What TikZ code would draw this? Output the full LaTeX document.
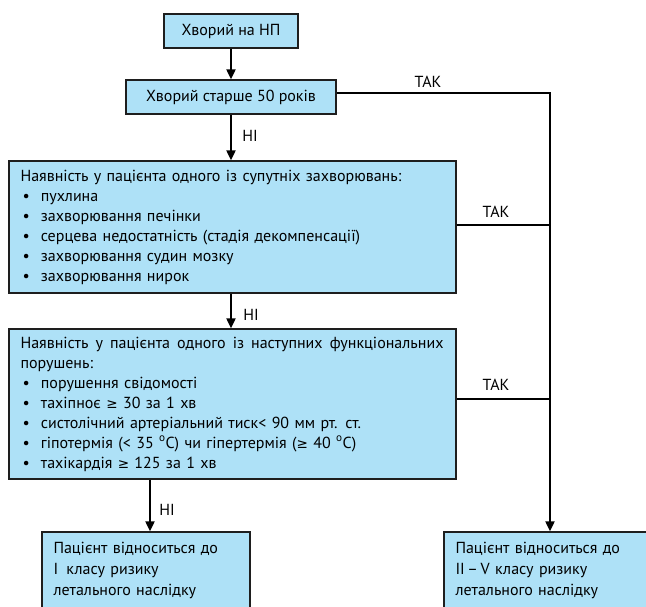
\documentclass[tikz,border=0pt]{standalone}
\usepackage{fontspec}
\setmainfont{PT Sans}
\newfontfamily\symf{DejaVu Sans}[Scale=0.85]
\usetikzlibrary{arrows.meta}
\definecolor{boxblue}{RGB}{174,225,247}
\definecolor{edgecol}{RGB}{30,30,30}
\newcommand{\gesign}{{\symf ≥}}
\newcommand{\bul}{\makebox[20.4pt][l]{\hspace{2pt}•}}
\begin{document}
\begin{tikzpicture}[x=1pt,y=-1pt,
  box/.style={draw=edgecol, line width=1.3pt, fill=boxblue, inner sep=0pt, font=\fontsize{16}{20}\selectfont},
  conn/.style={line width=2pt, draw=black},
  arr/.style={conn, -{Triangle[width=9pt,length=10pt]}},
  lbl/.style={font=\fontsize{16}{18}\selectfont, inner sep=0pt}]
\useasboundingbox (0,0) rectangle (646,606);
\clip (0,0) rectangle (646,606);
\node[box, minimum width=134pt, minimum height=34pt] (start) at (231,31) {Хворий на НП};
\node[box, minimum width=210pt, minimum height=34pt] (age) at (231,97) {Хворий старше 50 років};
\node[box, minimum width=447pt, minimum height=132pt, text width=424pt, align=left] (comorb) at (232.5,227) {Наявність у пацієнта одного із супутніх захворювань:\\
\bul пухлина\\
\bul захворювання печінки\\
\bul серцева недостатність (стадія декомпенсації)\\
\bul захворювання судин мозку\\
\bul захворювання нирок};
\node[box, minimum width=447pt, minimum height=150pt, text width=424pt, align=left] (func) at (232.5,404) {\makebox[423pt][l]{Наявність\hfill у\hfill пацієнта\hfill одного\hfill із\hfill наступних\hfill функціональних}\\
порушень:\\
\bul порушення свідомості\\
\bul тахіпноє \gesign{} 30 за 1 хв\\
\bul систолічний артеріальний тиск< 90 мм рт. ст.\\
\bul гіпотермія (< 35 \textsuperscript{o}C) чи гіпертермія (\gesign{} 40 \textsuperscript{o}C)\\
\bul тахікардія \gesign{} 125 за 1 хв};
\node[box, font=\fontsize{16}{21}\selectfont, minimum width=208pt, minimum height=76pt, text width=185pt, align=left] (res1) at (146,570) {Пацієнт відноситься до\\ I\hspace{3pt} класу ризику\\ летального наслідку};
\node[box, font=\fontsize{16}{21}\selectfont, minimum width=256pt, minimum height=76pt, text width=233pt, align=left] (res2) at (572,570) {Пацієнт відноситься до\\ II\,–\,V класу ризику\\ летального наслідку};
\coordinate (t1) at (550,92.5);
\coordinate (t2) at (550,225);
\coordinate (t3) at (550,399);
\coordinate (a4) at (150,0);
\draw[arr] (start) -- (age);
\draw[arr] (age.south) -- (age.south |- comorb.north);
\draw[arr] (age.south |- comorb.south) -- (age.south |- func.north);
\draw[arr] (func.south -| a4) -- (res1.north -| a4);
\draw[arr] (age.east |- t1) -- (t1) -- (res2.north -| t1);
\draw[conn] (comorb.east |- t2) -- (t2);
\draw[conn] (func.east |- t3) -- (t3);
\node[lbl] (yes1) at (428,82) {ТАК};
\node[lbl] (yes2) at (496,212) {ТАК};
\node[lbl] (yes3) at (496,385) {ТАК};
\node[lbl] (no1) at (250,136) {НІ};
\node[lbl] (no2) at (251,315) {НІ};
\node[lbl] (no3) at (167,510) {НІ};
\end{tikzpicture}
\end{document}
